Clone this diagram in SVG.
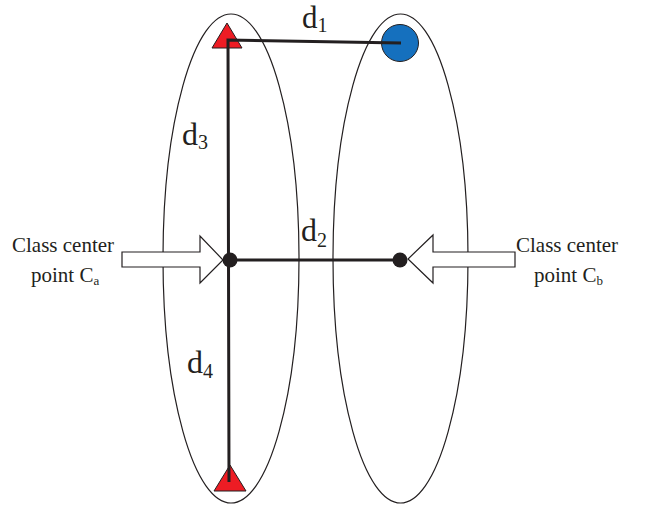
<svg xmlns="http://www.w3.org/2000/svg" width="648" height="512" viewBox="0 0 648 512">
<style>
.ell{fill:none;stroke:#231f20;stroke-width:1.2}
.ln{stroke:#231f20;stroke-width:3;fill:none}
.tri{fill:#ed1c24;stroke:#231f20;stroke-width:1}
.arr{fill:#fff;stroke:#231f20;stroke-width:1.2}
.t{font-family:"Liberation Serif",serif;fill:#231f20}
.lab{font-size:21px}
.d{font-size:32px}
.sub{font-size:20px}
.ss{font-size:13px}
</style>
<rect width="648" height="512" fill="#fff"/>
<g id="classA"><ellipse class="ell" cx="231" cy="258.5" rx="68" ry="244.5"/></g>
<g id="classB"><ellipse class="ell" cx="400.5" cy="258.5" rx="67.5" ry="244.5"/></g>
<g id="triTop"><polygon class="tri" points="227,23 212,48 242,48"/></g>
<g id="triBottom"><polygon class="tri" points="230,465 214,491 246,491"/></g>
<g id="circleB"><circle cx="400" cy="43" r="18.5" fill="#1570be" stroke="#231f20" stroke-width="1"/></g>
<g id="connectors">
<polyline class="ln" points="401,43 228,40 229,482"/>
<line class="ln" x1="230" y1="260" x2="400" y2="260"/>
</g>
<g id="centerA"><circle cx="230" cy="260" r="7.5" fill="#231f20"/></g>
<g id="centerB"><circle cx="400" cy="260" r="7.5" fill="#231f20"/></g>
<g id="arrowA"><polygon class="arr" points="122,252 200,252 200,236 223,260 200,283 200,267 122,267"/></g>
<g id="arrowB"><polygon class="arr" points="515,252 433,252 433,235 408,259 433,283 433,267 515,267"/></g>
<g id="labels">
<text class="t lab" x="12" y="252">Class center</text>
<text class="t lab" x="31" y="282">point C<tspan class="ss" dy="3">a</tspan></text>
<text class="t lab" x="516" y="252">Class center</text>
<text class="t lab" x="534" y="282">point C<tspan class="ss" dy="3">b</tspan></text>
<text class="t" style="font-size:31px" x="302" y="28">d<tspan class="sub" dy="4">1</tspan></text>
<text class="t d" x="182" y="145">d<tspan class="sub" dy="4">3</tspan></text>
<text class="t d" x="301" y="241">d<tspan class="sub" dy="6">2</tspan></text>
<text class="t d" x="187" y="373">d<tspan class="sub" dy="5">4</tspan></text>
</g>
</svg>
